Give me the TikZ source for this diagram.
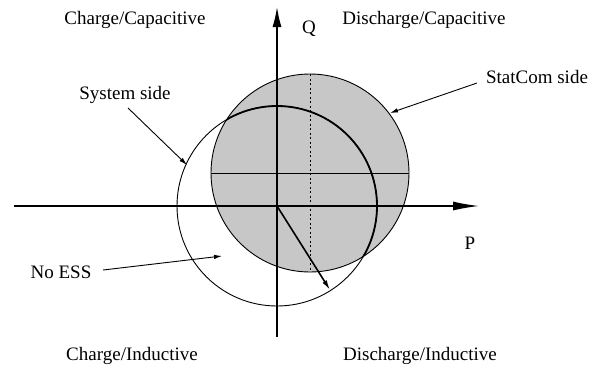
\documentclass[tikz,border=0pt]{standalone}
\usepackage{fontspec}
\setmainfont{Liberation Serif}
\usetikzlibrary{arrows.meta}
\begin{document}
\begin{tikzpicture}[x=1pt,y=-1pt,
  lbl/.style={inner sep=0pt,font=\fontsize{19}{21}\selectfont},
  thin line/.style={line width=0.9pt},
  axisarrow/.style={line width=1.3pt,-{Latex[length=26pt,width=9pt]}},
  ptr/.style={line width=0.9pt,-{Latex[length=8pt,width=4.5pt]}}]
\useasboundingbox (0,0) rectangle (599,370);
% centres
\coordinate (O) at (277,206);
\coordinate (G) at (310,173);
% gray StatCom circle
\fill[black!22] (G) circle (99pt);
\draw[thin line] (G) circle (99pt);
% diameter lines of gray circle
\coordinate (gl) at (211,173);
\coordinate (gr) at (409,173);
\coordinate (gt) at (310,74);
\coordinate (gb) at (310,272);
\draw[line width=0.7pt] (gl) -- (gr);
\draw[line width=1pt,dash pattern=on 2pt off 2.5pt] (gt) -- (gb);
% system circle
\draw[thin line] (O) circle (100pt);
\begin{scope}
  \clip (G) circle (99pt);
  \draw[line width=1.8pt] (O) circle (100pt);
\end{scope}
% axes
\coordinate (xl) at (14,206);
\coordinate (xr) at (479,206);
\coordinate (yb) at (277,337);
\coordinate (yt) at (277,7);
\draw[axisarrow] (xl) -- (xr);
\draw[line width=1.3pt,-{Latex[length=20pt,width=9pt]}] (yb) -- (yt);
% radius vector
\coordinate (R) at (330,290);
\draw[line width=1.6pt,-{Latex[length=10pt,width=5pt]}] (O) -- (R);
% labels
\node[lbl] (q) at (309,29) {Q};
\node[lbl] (p) at (470,243) {P};
\node[lbl] (cc) at (135,20) {Charge/Capacitive};
\node[lbl] (dc) at (424,20) {Discharge/Capacitive};
\node[lbl] (ci) at (132,356) {Charge/Inductive};
\node[lbl] (di) at (420,356) {Discharge/Inductive};
\node[lbl] (sys) at (125,95) {System side};
\node[lbl] (stc) at (537,77) {StatCom side};
\node[lbl] (ness) at (61,272) {No ESS};
% pointers
\coordinate (sysend) at (187,165);
\coordinate (stcend) at (390,113);
\coordinate (nessend) at (222,256);
\coordinate (sysst) at (128,108);
\coordinate (stcst) at (477,83);
\coordinate (nessst) at (103,270);
\draw[ptr] (sysst) -- (sysend);
\draw[ptr] (stcst) -- (stcend);
\draw[ptr] (nessst) -- (nessend);
\end{tikzpicture}
\end{document}
